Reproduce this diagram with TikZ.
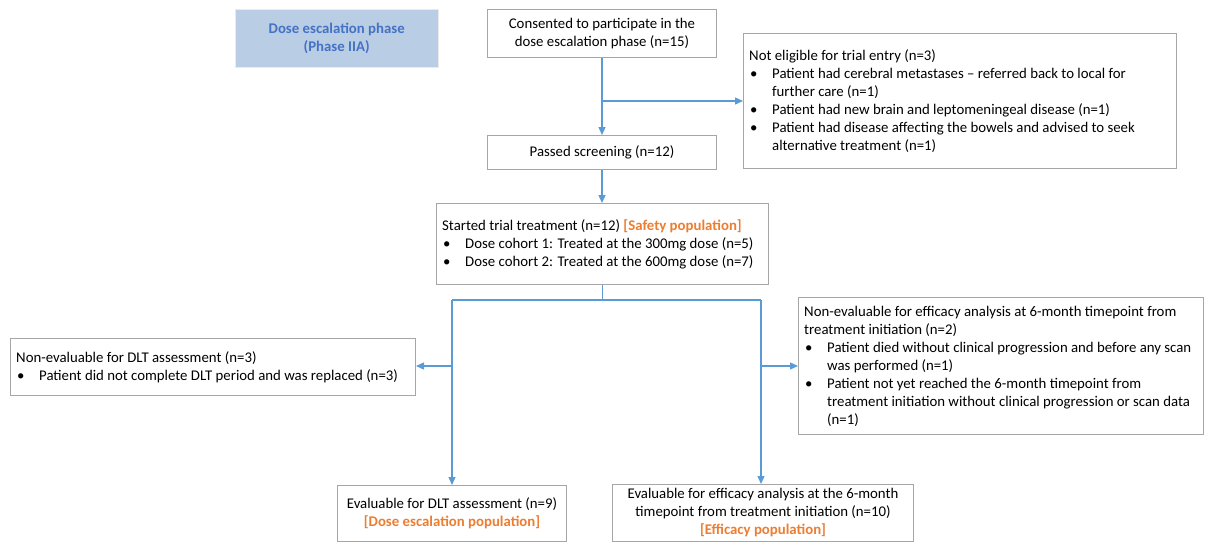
\documentclass[tikz,border=0pt]{standalone}
\usepackage{fontspec}
\setmainfont{Carlito}
\usetikzlibrary{arrows.meta}
\definecolor{flow}{HTML}{5B9BD5}
\definecolor{frame}{HTML}{A6A6A6}
\definecolor{popn}{HTML}{ED7D31}
\definecolor{phasefill}{HTML}{B9CDE5}
\definecolor{phasetext}{HTML}{4472C4}
% bullet marker and the hanging indent of wrapped bullet lines
\newcommand{\bul}{\makebox[23pt][l]{\hspace{1pt}\textbullet}}
\newcommand{\cont}{\hspace*{23pt}}
\newcommand{\popn}[1]{\textcolor{popn}{\textbf{#1}}}
\begin{document}
\begin{tikzpicture}[x=1pt,y=-1pt,
  every node/.style={font=\fontsize{14.8}{18}\selectfont, inner sep=0pt},
  box/.style={draw=frame, line width=1pt, fill=white, anchor=north west, align=center},
  txt/.style={anchor=west, align=left},
  lnk/.style={draw=flow, line width=1.3pt},
  arr/.style={lnk, -{Triangle[length=8pt,width=7pt]}}]
\useasboundingbox (0,0) rectangle (1211,543);

% phase label
\node[anchor=north west, fill=phasefill, draw=black!8, minimum width=203pt, minimum height=58pt,
      align=center, text=phasetext, font=\fontsize{14.8}{18}\selectfont\bfseries] (phase) at (235,9)
  {Dose escalation phase\\(Phase IIA)};

% main column
\node[box, minimum width=229pt, minimum height=48pt] (consent) at (487,9)
  {Consented to participate in the\\dose escalation phase (n=15)};
\node[box, minimum width=229pt, minimum height=34pt] (passed) at (487,135)
  {Passed screening (n=12)};
\node[box, minimum width=332pt, minimum height=81pt] (started) at (436,203) {};
\node[txt] (started-t) at ([xshift=6pt]started.west)
  {Started trial treatment (n=12) \popn{[Safety population]}\\
   \bul Dose cohort 1: Treated at the 300mg dose (n=5)\\
   \bul Dose cohort 2: Treated at the 600mg dose (n=7)};

% exclusions
\node[box, minimum width=433pt, minimum height=135pt] (notelig) at (743,33) {};
\node[txt] (notelig-t) at ([xshift=6pt]notelig.west)
  {Not eligible for trial entry (n=3)\\
   \bul Patient had cerebral metastases – referred back to local for\\
   \cont further care (n=1)\\
   \bul Patient had new brain and leptomeningeal disease (n=1)\\
   \bul Patient had disease affecting the bowels and advised to seek\\
   \cont alternative treatment (n=1)};

\node[box, minimum width=405pt, minimum height=57pt] (dltne) at (10,338) {};
\node[txt] (dltne-t) at ([xshift=6pt]dltne.west)
  {Non-evaluable for DLT assessment (n=3)\\
   \bul Patient did not complete DLT period and was replaced (n=3)};

\node[box, minimum width=405pt, minimum height=137pt] (effne) at (798,297) {};
\node[txt] (effne-t) at ([xshift=6pt]effne.west)
  {Non-evaluable for efficacy analysis at 6-month timepoint from\\
   treatment initiation (n=2)\\
   \bul Patient died without clinical progression and before any scan\\
   \cont was performed (n=1)\\
   \bul Patient not yet reached the 6-month timepoint from\\
   \cont treatment initiation without clinical progression or scan data\\
   \cont (n=1)};

% analysis populations
\node[box, minimum width=229pt, minimum height=56pt] (dlte) at (337,485)
  {Evaluable for DLT assessment (n=9)\\\popn{[Dose escalation population]}};
\node[box, minimum width=301pt, minimum height=57pt] (effe) at (612,484)
  {Evaluable for efficacy analysis at the 6-month\\timepoint from treatment initiation (n=10)\\\popn{[Efficacy population]}};

% connectors
\coordinate (b1) at (601.5,101);
\coordinate (jl) at (452,300);
\coordinate (jr) at (761,300);
\coordinate (al) at (452,366);
\coordinate (ar) at (761,366);

\draw[arr] (consent.south) -- (passed.north);
\draw[arr] (b1) -- (b1 -| notelig.west);
\draw[arr] (passed.south) -- (passed.south |- started.north);
\draw[lnk] (started.south) -- (started.south |- jl);
\draw[lnk] (jl) -- (jr);
\draw[arr] (jl) -- (jl |- dlte.north);
\draw[arr] (jr) -- (jr |- effe.north);
\draw[arr] (al) -- (al -| dltne.east);
\draw[arr] (ar) -- (ar -| effne.west);
\end{tikzpicture}
\end{document}
